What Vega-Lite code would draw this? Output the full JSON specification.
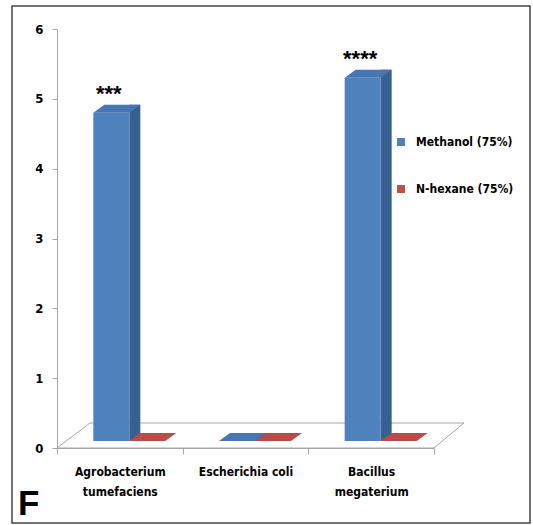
{
  "$schema": "https://vega.github.io/schema/vega-lite/v6.json",
  "autosize": "none",
  "padding": {"left": 12, "top": 6, "right": 3, "bottom": 2},
  "width": 518,
  "height": 517,
  "background": "white",
  "config": {
    "view": {"stroke": "#444444", "strokeWidth": 1.5},
    "font": "DejaVu Sans Condensed, sans-serif"
  },
  "title": {
    "text": "F",
    "orient": "bottom",
    "anchor": "start",
    "frame": "group",
    "baseline": "alphabetic",
    "offset": -8,
    "dx": 6,
    "fontSize": 35,
    "fontWeight": "bold",
    "font": "Liberation Sans, Arial, sans-serif",
    "color": "#000000"
  },
  "data": {
    "values": [
      {"organism": "Agrobacterium tumefaciens", "series": "Methanol (75%)", "value": 4.7, "stars": "***"},
      {"organism": "Agrobacterium tumefaciens", "series": "N-hexane (75%)", "value": 0, "stars": ""},
      {"organism": "Escherichia coli", "series": "Methanol (75%)", "value": 0, "stars": ""},
      {"organism": "Escherichia coli", "series": "N-hexane (75%)", "value": 0, "stars": ""},
      {"organism": "Bacillus megaterium", "series": "Methanol (75%)", "value": 5.2, "stars": "****"},
      {"organism": "Bacillus megaterium", "series": "N-hexane (75%)", "value": 0, "stars": ""}
    ]
  },
  "encoding": {
    "x": {
      "field": "organism",
      "type": "nominal",
      "sort": ["Agrobacterium tumefaciens", "Escherichia coli", "Bacillus megaterium"],
      "scale": {"range": [45, 422], "paddingInner": 0, "paddingOuter": 0},
      "axis": {
        "title": null,
        "offset": -75,
        "tickBand": "extent",
        "tickSize": 6,
        "tickColor": "#A6A6A6",
        "domainColor": "#A6A6A6",
        "labelAngle": 0,
        "labelFontSize": 12,
        "labelFontWeight": "bold",
        "labelColor": "#000000",
        "labelPadding": 12,
        "labelLineHeight": 20,
        "labelBaseline": "top",
        "labelExpr": "isValid(datum.value) ? (datum.value == 'Escherichia coli' ? datum.value : split(datum.value, ' ')) : ''"
      }
    },
    "y": {
      "field": "value",
      "type": "quantitative",
      "scale": {"domain": [0, 6], "range": [442, 23], "nice": false, "zero": true},
      "axis": {
        "title": null,
        "offset": -45,
        "values": [0, 1, 2, 3, 4, 5, 6],
        "grid": false,
        "tickSize": 5,
        "tickColor": "#A6A6A6",
        "domainColor": "#A6A6A6",
        "labelFontSize": 13,
        "labelFontWeight": "bold",
        "labelColor": "#000000",
        "labelPadding": 9
      }
    }
  },
  "layer": [
    {
      "transform": [{"filter": "datum.organism == 'Escherichia coli' && datum.series == 'Methanol (75%)'"}],
      "mark": {
        "type": "point",
        "shape": "M-0.9425,0L0.9425,0L1.0925,-0.125L-0.7775,-0.125Z",
        "size": 160000,
        "filled": false,
        "stroke": "#A6A6A6",
        "strokeWidth": 1,
        "opacity": 1
      },
      "encoding": {"y": {"datum": 0}}
    },
    {
      "transform": [{"filter": "datum.series == 'Methanol (75%)'"}],
      "mark": {
        "type": "bar",
        "width": {"band": 0.0875},
        "xOffset": 15,
        "yOffset": -15,
        "y2Offset": -7,
        "color": "#38608F"
      },
      "encoding": {"y2": {"datum": 0}}
    },
    {
      "transform": [{"filter": "datum.series == 'Methanol (75%)'"}],
      "mark": {
        "type": "bar",
        "width": {"band": 0.2865},
        "xOffset": -8.5,
        "yOffset": -7,
        "y2Offset": -7
      },
      "encoding": {
        "y2": {"datum": 0},
        "color": {
          "field": "series",
          "type": "nominal",
          "scale": {"domain": ["Methanol (75%)", "N-hexane (75%)"], "range": ["#4F81BD", "#C0504D"]},
          "legend": {
            "title": null,
            "orient": "none",
            "legendX": 383,
            "legendY": 130,
            "padding": 0,
            "symbolType": "square",
            "symbolSize": 64,
            "symbolStrokeWidth": 0,
            "labelFontSize": 12,
            "labelFontWeight": "bold",
            "labelColor": "#000000",
            "labelOffset": 9,
            "rowPadding": 35
          }
        }
      }
    },
    {
      "transform": [{"filter": "datum.series == 'Methanol (75%)'"}],
      "mark": {
        "type": "point",
        "shape": "M-1.104,-0.292L0.396,-0.292L0.854,-0.625L-0.646,-0.625Z",
        "size": 2304,
        "filled": true,
        "color": "#4676B4",
        "strokeWidth": 0,
        "opacity": 1
      }
    },
    {
      "transform": [{"filter": "datum.series == 'N-hexane (75%)'"}],
      "mark": {
        "type": "point",
        "shape": "M0.396,-0.292L1.896,-0.292L2.354,-0.625L0.854,-0.625Z",
        "size": 2304,
        "filled": true,
        "color": "#B94B48",
        "strokeWidth": 0,
        "opacity": 1
      }
    },
    {
      "transform": [{"filter": "datum.stars != ''"}],
      "mark": {
        "type": "text",
        "xOffset": -11,
        "dy": -19,
        "baseline": "alphabetic",
        "align": "center",
        "fontSize": 22,
        "fontWeight": "bold",
        "font": "Liberation Sans, Arial, sans-serif",
        "color": "#000000"
      },
      "encoding": {"text": {"field": "stars"}}
    }
  ]
}
